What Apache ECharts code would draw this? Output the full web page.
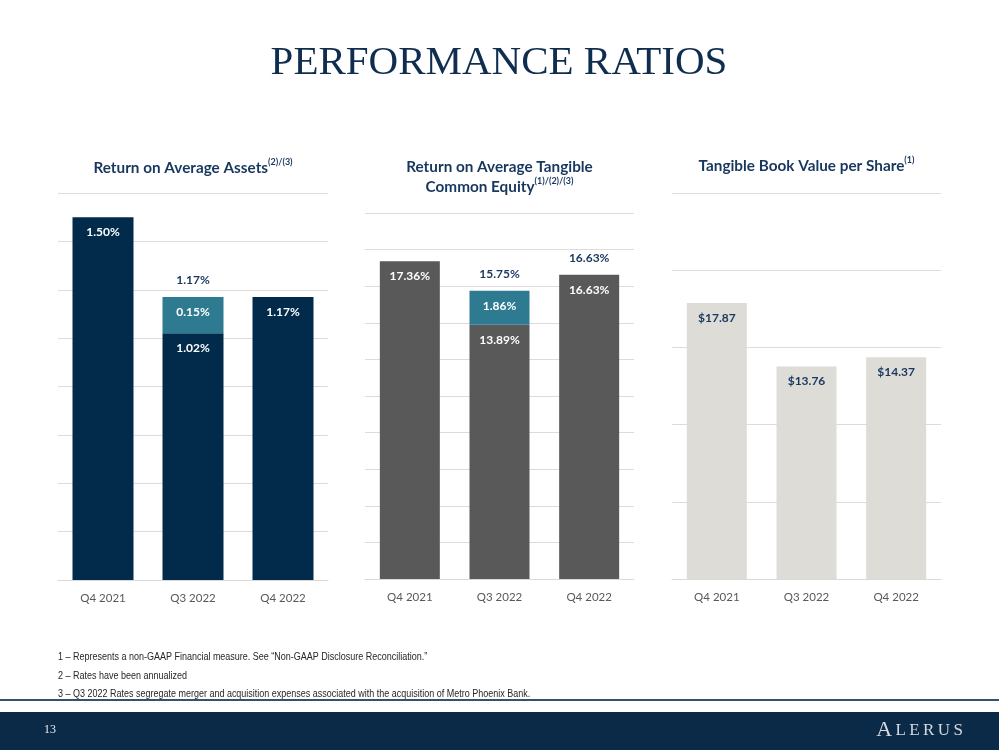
<!DOCTYPE html>
<html>
<head>
<meta charset="utf-8">
<script src="https://cdn.jsdelivr.net/npm/echarts@6/dist/echarts.min.js"></script>
<style>
html,body{margin:0;padding:0;background:#fff;}
#main{width:999px;height:750px;}
</style>
</head>
<body>
<div id="main"></div>
<script>
// ---- data ----
var categories = ['Q4 2021', 'Q3 2022', 'Q4 2022'];

var roaaBase = [1.50, 1.02, 1.17];
var roaaMerger = ['-', 0.15, '-'];
var roaaTotals = ['-', 1.17, '-'];

var rotceBase = [17.36, 13.89, 16.63];
var rotceMerger = ['-', 1.86, '-'];
var rotceTotals = ['-', 15.75, 16.63];

var tbvps = [17.87, 13.76, 14.37];

var panelTitles = [
  ['Return on Average Assets', '(2)/(3)'],
  ['Return on Average Tangible\nCommon Equity', '(1)/(2)/(3)'],
  ['Tangible Book Value per Share', '(1)']
];
var footnotes = [
  '1 \u2013 Represents a non-GAAP Financial measure. See \u201cNon-GAAP Disclosure Reconciliation.\u201d',
  '2 \u2013 Rates have been annualized',
  '3 \u2013 Q3 2022 Rates segregate merger and acquisition expenses associated with the acquisition of Metro Phoenix Bank.'
];

// ---- styles ----
var NAVY = '#022b4b', TEAL = '#2e7b91', DGRAY = '#595959', LGRAY = '#dedcd7';
var TXT = '#17375e';
var FONT = 'Lato, "Open Sans", sans-serif';

var chart = echarts.init(document.getElementById('main'), null, {renderer: 'canvas'});

var grids = [
  {left: 58, top: 193, width: 270, height: 387},
  {left: 365, top: 213, width: 269, height: 366},
  {left: 672, top: 193, width: 269, height: 386}
];

function xAxis(i) {
  return {
    type: 'category', gridIndex: i, data: categories,
    axisTick: {show: false},
    axisLine: {show: true, lineStyle: {color: '#d9d9d9', width: 1}},
    axisLabel: {color: DGRAY, fontFamily: FONT, fontSize: 11.5, margin: 12}
  };
}
function yAxis(i, max, interval) {
  return {
    type: 'value', gridIndex: i, min: 0, max: max, interval: interval,
    axisLabel: {show: false}, axisLine: {show: false}, axisTick: {show: false},
    splitLine: {show: true, lineStyle: {color: '#dcdcdc', width: 1}}
  };
}
function insideLabel(color, fmt) {
  return {show: true, position: 'insideTop', distance: 9, color: color,
    fontFamily: FONT, fontWeight: 'bold', fontSize: 12, formatter: fmt};
}
var pct = function (p) { return p.value.toFixed(2) + '%'; };
var usd = function (p) { return '$' + p.value.toFixed(2); };

function totalSeries(i, data) {
  return {
    type: 'scatter', xAxisIndex: i, yAxisIndex: i, data: data,
    symbolSize: 0, silent: true, z: 5,
    itemStyle: {opacity: 1},
    label: {show: true, position: 'top', distance: 11, color: TXT, opacity: 1,
      fontFamily: FONT, fontWeight: 'bold', fontSize: 12, formatter: pct}
  };
}

var titleCenters = [193, 499.5, 806.5];
var titleTops = [158, 157, 156];
var titles = panelTitles.map(function (t, i) {
  var lines = t[0].split('\n');
  var txt = '';
  for (var k = 0; k < lines.length; k++) {
    txt += '{a|' + lines[k] + '}';
    if (k === lines.length - 1) txt += '{s|' + t[1] + '}';
    if (k < lines.length - 1) txt += '\n';
  }
  return {
    text: txt, left: titleCenters[i], top: titleTops[i], textAlign: 'center', padding: 0,
    textStyle: {
      rich: {
        a: {fontFamily: FONT, fontWeight: 'bold', fontSize: 15.3, color: TXT, lineHeight: 20},
        s: {fontFamily: FONT, fontWeight: 'bold', fontSize: 9, color: TXT, verticalAlign: 'top', lineHeight: 20, padding: [0, 0, 8, 0]}
      }
    }
  };
});
titles.push({
  text: 'PERFORMANCE RATIOS', left: 499, top: 43, textAlign: 'center', padding: 0,
  textStyle: {fontFamily: '"Liberation Serif", "DejaVu Serif", serif', fontWeight: 'normal', fontSize: 41, color: '#0f2d4f'}
});

var footFont = '10.5px "Liberation Sans Narrow", "Arial Narrow", "Liberation Sans", sans-serif';
var option = {
  animation: false,
  backgroundColor: '#ffffff',
  title: titles,
  grid: grids,
  xAxis: [xAxis(0), xAxis(1), xAxis(2)],
  yAxis: [yAxis(0, 1.6, 0.2), yAxis(1, 20, 2), yAxis(2, 25, 5)],
  series: [
    {type: 'bar', xAxisIndex: 0, yAxisIndex: 0, stack: 'roaa', data: roaaBase, barWidth: 61,
      itemStyle: {color: NAVY}, label: insideLabel('#ffffff', pct)},
    {type: 'bar', xAxisIndex: 0, yAxisIndex: 0, stack: 'roaa', data: roaaMerger, barWidth: 61,
      itemStyle: {color: TEAL}, label: insideLabel('#ffffff', pct)},
    totalSeries(0, roaaTotals),
    {type: 'bar', xAxisIndex: 1, yAxisIndex: 1, stack: 'rotce', data: rotceBase, barWidth: 60,
      itemStyle: {color: DGRAY}, label: insideLabel('#ffffff', pct)},
    {type: 'bar', xAxisIndex: 1, yAxisIndex: 1, stack: 'rotce', data: rotceMerger, barWidth: 60,
      itemStyle: {color: TEAL}, label: insideLabel('#ffffff', pct)},
    totalSeries(1, rotceTotals),
    {type: 'bar', xAxisIndex: 2, yAxisIndex: 2, data: tbvps, barWidth: 60,
      itemStyle: {color: LGRAY}, label: insideLabel(TXT, usd)}
  ],
  graphic: [
    {type: 'text', x: 58, y: 652, scaleX: 0.856, style: {text: footnotes[0], fill: '#262626', font: footFont}},
    {type: 'text', x: 58, y: 671, scaleX: 0.856, style: {text: footnotes[1], fill: '#262626', font: footFont}},
    {type: 'text', x: 58, y: 689, scaleX: 0.856, style: {text: footnotes[2], fill: '#262626', font: footFont}},
    {type: 'rect', shape: {x: 0, y: 699, width: 999, height: 2}, style: {fill: '#34516e'}},
    {type: 'rect', shape: {x: 0, y: 712, width: 999, height: 38}, style: {fill: '#0b2a48'}},
    {type: 'text', x: 44, y: 724, style: {text: '13', fill: '#e8ecf0',
      font: '12px "Liberation Serif", serif'}},
    {type: 'text', right: 36, top: 719, style: {
      text: '{a|A}{b|\u2009L\u2009E\u2009R\u2009U\u2009S}',
      rich: {
        a: {fontFamily: '"Liberation Serif", serif', fontSize: 22, fill: '#d4dae0', color: '#d4dae0'},
        b: {fontFamily: '"Liberation Serif", serif', fontSize: 17, fill: '#d4dae0', color: '#d4dae0', padding: [2, 0, 0, 0]}
      }
    }}
  ]
};
chart.setOption(option);
</script>
</body>
</html>
